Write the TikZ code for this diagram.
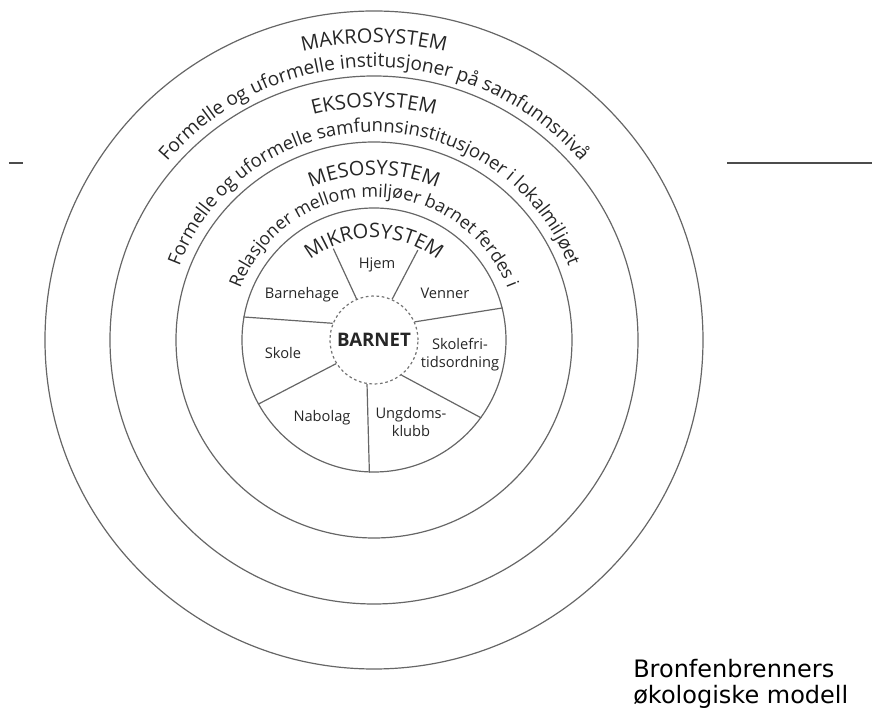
\documentclass[tikz,border=0pt]{standalone}
\usepackage{fontspec}
\setmainfont{Open Sans}
\newfontfamily\titlefont{DejaVu Sans}
\usetikzlibrary{decorations.text}

\newcommand{\sysname}{\fontsize{15}{15}\selectfont}
\newcommand{\makrotekst}{\fontsize{14.3}{14.3}\selectfont}
\newcommand{\eksotekst}{\fontsize{13.9}{13.9}\selectfont}
\newcommand{\mesotekst}{\fontsize{13.4}{13.4}\selectfont}

\begin{document}
\begin{tikzpicture}[x=0.75pt, y=0.75pt,
	ring/.style={shape=circle, draw=black!60, line width=0.9pt, inner sep=0pt},
	spoke/.style={draw=black!60, line width=0.9pt},
	part/.style={font=\fontsize{11}{13.5}\selectfont, text=black!85, align=center},
	arctext/.style={decorate, decoration={text along path, text align=center, text color=black!85, text={#1}}}]
	\useasboundingbox (-374,-373) rectangle (498,340);

	\node[ring, minimum size=493.5pt] (makro) at (0,0) {};
	\node[ring, minimum size=396pt] (ekso) at (0,0) {};
	\node[ring, minimum size=297pt] (meso) at (0,0) {};
	\node[ring, minimum size=198pt] (mikro) at (0,0) {};
	\node[shape=circle, draw=black!55, dash pattern=on 2pt off 2pt, line width=0.9pt, minimum size=66pt, inner sep=0pt, font=\fontsize{14}{14}\selectfont\bfseries, text=black!85] (barnet) at (0,0) {BARNET};

	\path[arctext={|\sysname|MAKROSYSTEM}] (180:297) arc[start angle=180, end angle=0, radius=297];
	\path[arctext={|\makrotekst|Formelle og uformelle institusjoner på samfunnsnivå}] (180:273) arc[start angle=180, end angle=0, radius=273];
	\path[arctext={|\sysname|EKSOSYSTEM}] (180:233) arc[start angle=180, end angle=0, radius=233];
	\path[arctext={|\eksotekst|Formelle og uformelle samfunnsinstitusjoner i lokalmiljøet}] (180:208) arc[start angle=180, end angle=0, radius=208];
	\path[arctext={|\sysname|MESOSYSTEM}] (180:165) arc[start angle=180, end angle=0, radius=165];
	\path[arctext={|\mesotekst|Relasjoner mellom miljøer barnet ferdes i}] (180:143) arc[start angle=180, end angle=0, radius=143];
	\path[arctext={|\sysname|MIKROSYSTEM}] (180:102) arc[start angle=180, end angle=0, radius=102];

	\coordinate (hjemv) at (114:100);
	\coordinate (hjemh) at (64:100);
	\path[spoke] (barnet.113) edge (hjemv);
	\path[spoke] (barnet.66) edge (hjemh);
	\path[spoke] (barnet.24) edge (mikro.14);
	\path[spoke] (barnet.-52) edge (mikro.-36);
	\path[spoke] (barnet.-99) edge (mikro.-92);
	\path[spoke] (barnet.212) edge (mikro.209);
	\path[spoke] (barnet.158) edge (mikro.170);

	\node[part] (hjem) at (3,75) {Hjem};
	\node[part] (barnehage) at (-72,45) {Barnehage};
	\node[part] (venner) at (71,47) {Venner};
	\node[part] (skole) at (-91,-13) {Skole};
	\node[part] (sfo) at (86,-15) {Skolefri-\\tidsordning};
	\node[part] (nabolag) at (-52,-78) {Nabolag};
	\node[part] (klubb) at (37,-82) {Ungdoms-\\klubb};

	\coordinate (strekA) at (-365,177);
	\coordinate (strekB) at (-351,177);
	\coordinate (strekC) at (353,177);
	\coordinate (strekD) at (498,177);
	\draw[black!70, line width=0.9pt] (strekA) -- (strekB) (strekC) -- (strekD);

	\node[anchor=north west, inner sep=0pt, align=left, font=\titlefont\fontsize{18}{19.5}\selectfont] (tittel) at (259,-319) {Bronfenbrenners\\økologiske modell};
\end{tikzpicture}
\end{document}
